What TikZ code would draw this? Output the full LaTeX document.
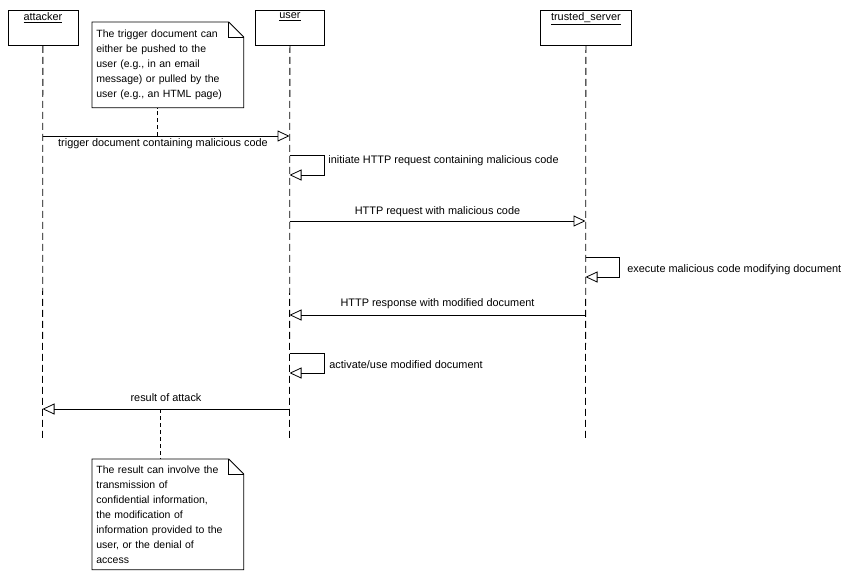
\documentclass[tikz,border=0pt]{standalone}
\usepackage{fontspec}
\setmainfont{Liberation Sans}
\usetikzlibrary{arrows.meta, positioning}

\tikzset{
  diag/.style={x=1pt, y=-1pt, line width=0.8pt, font=\fontsize{10.5}{15}\selectfont},
  actor/.style={draw, anchor=north west, minimum height=35pt, inner sep=0pt},
  lifeline/.style={dash pattern=on 7pt off 4pt},
  notelink/.style={dash pattern=on 4pt off 3pt},
  msg/.style={-{Triangle[open, length=12pt, width=11pt]}},
  lbl/.style={inner sep=1pt, font=\fontsize{10.9}{13}\selectfont},
  note/.style={anchor=north west, align=left, inner sep=4pt, text width=143pt, minimum width=151pt},
}

\begin{document}
\begin{tikzpicture}[diag]
\useasboundingbox (0,0) rectangle (847,576);

% Objekte mit Lebenslinien
\foreach \name/\txt/\x/\w in {attacker/attacker/7.5/70, user/user/255/69, server/trusted\_server/540/91} {
    \node[actor, minimum width=\w pt] (\name) at (\x,10) {};
    \node[lbl, below=1pt of \name.north] (\name-lbl) {\underline{\txt}};
    \coordinate (\name-end) at (\x+\w/2,438);
    \draw[lifeline] (\name.south) -- (\name-end);
}

% Punkte auf den Lebenslinien
\coordinate (a1) at (42.5,136);  \coordinate (u1) at (289.5,136);
\coordinate (u2) at (289.5,155); \coordinate (u2e) at (289.5,175);
\coordinate (u3) at (289.5,221); \coordinate (s3) at (585.5,221);
\coordinate (s4) at (585.5,257); \coordinate (s4e) at (585.5,277);
\coordinate (s5) at (585.5,315); \coordinate (u5) at (289.5,315);
\coordinate (u6) at (289.5,353); \coordinate (u6e) at (289.5,373);
\coordinate (u7) at (289.5,409); \coordinate (a7) at (42.5,409);

% Nachrichten
\draw[msg] (a1) -- (u1) node[lbl, midway, below=1pt, xshift=-3pt] (m1) {trigger document containing malicious code};
\draw[msg] (u2) -- ++(35,0) -- ++(0,20) -- (u2e);
\node[lbl, anchor=west] (m2) at (327,161) {initiate HTTP request containing malicious code};
\draw[msg] (u3) -- (s3) node[lbl, midway, above=3pt] (m3) {HTTP request with malicious code};
\draw[msg] (s4) -- ++(34,0) -- ++(0,20) -- (s4e);
\node[lbl, anchor=west] (m4) at (626,270) {execute malicious code modifying document};
\draw[msg] (s5) -- (u5) node[lbl, midway, above=5pt] (m5) {HTTP response with modified document};
\draw[msg] (u6) -- ++(35,0) -- ++(0,20) -- (u6e);
\node[lbl, anchor=west] (m6) at (328,365) {activate/use modified document};
\draw[msg] (u7) -- (a7) node[lbl, midway, above=6pt] (m7) {result of attack};

% Notizen
\node[note, minimum height=85pt] (note1) at (92,22) {The trigger document can\\either be pushed to the\\user (e.g., in an email\\message) or pulled by the\\user (e.g., an HTML page)};
\draw (note1.north west) -- ([xshift=-15pt]note1.north east) -- ([yshift=-15pt]note1.north east)
      -- (note1.south east) -- (note1.south west) -- cycle;
\draw ([xshift=-15pt]note1.north east) |- ([yshift=-15pt]note1.north east);
\coordinate (n1) at (157.5,136);
\draw[notelink] (n1) -- (n1 |- note1.south);

\node[note, minimum height=110pt] (note2) at (92,459) {The result can involve the\\transmission of\\confidential information,\\the modification of\\information provided to the\\user, or the denial of\\access};
\draw (note2.north west) -- ([xshift=-15pt]note2.north east) -- ([yshift=-15pt]note2.north east)
      -- (note2.south east) -- (note2.south west) -- cycle;
\draw ([xshift=-15pt]note2.north east) |- ([yshift=-15pt]note2.north east);
\coordinate (n2) at (160.5,409);
\draw[notelink] (n2) -- (n2 |- note2.north);
\end{tikzpicture}
\end{document}
